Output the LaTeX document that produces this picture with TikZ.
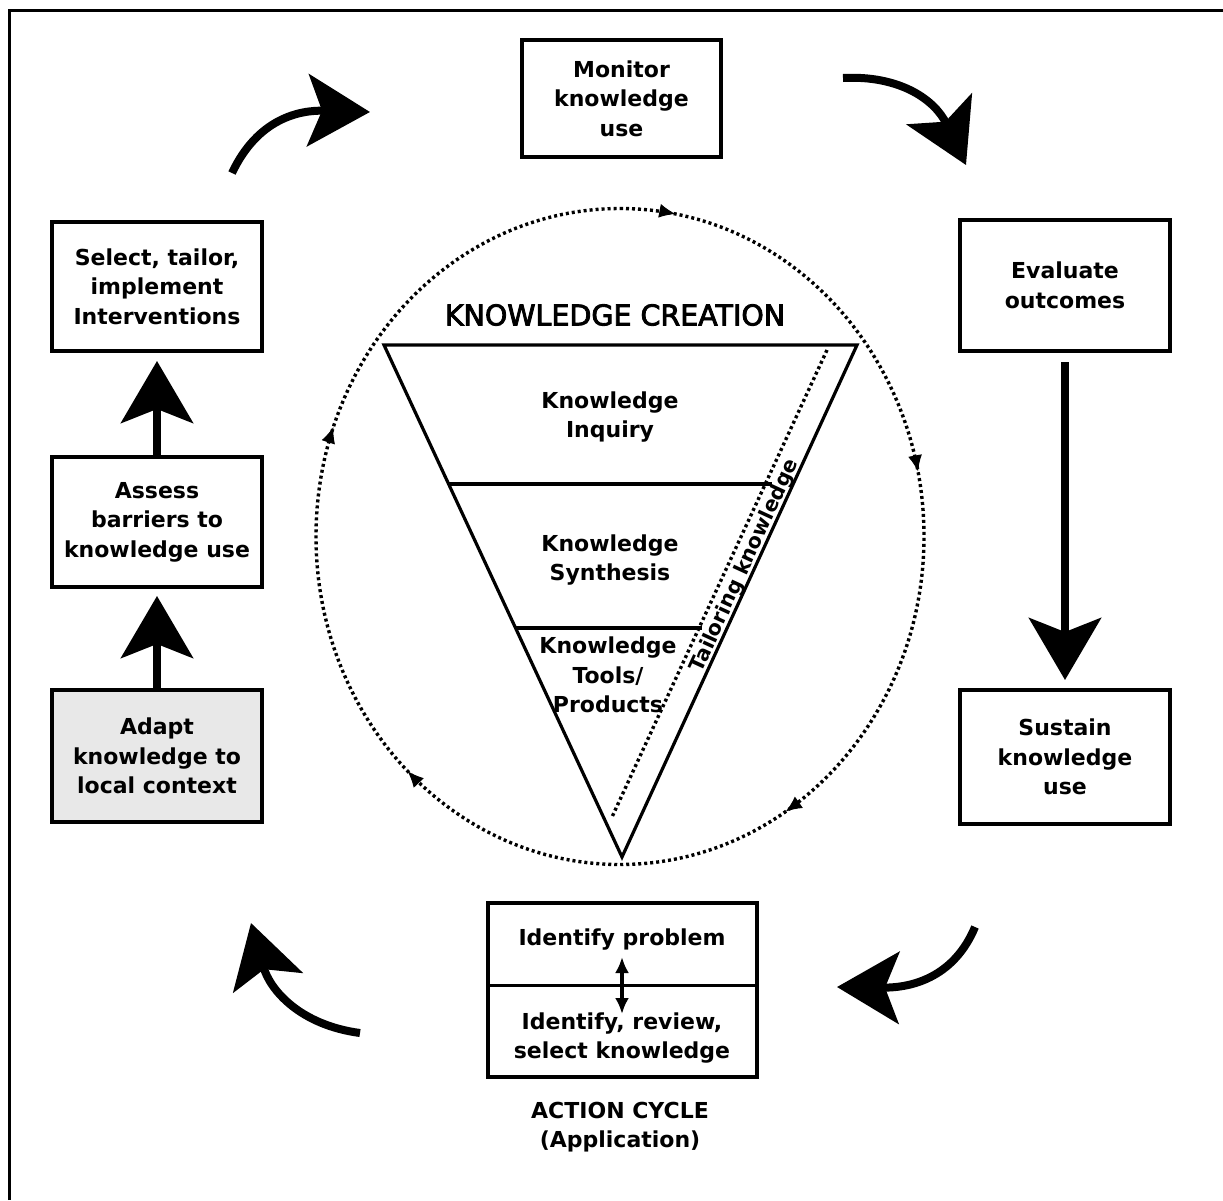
\documentclass[tikz,border=0pt]{standalone}
\usepackage{fontspec}
\setmainfont{DejaVu Sans}
\newfontfamily\titlefont{DejaVu Sans}[FakeBold=3]
\usetikzlibrary{arrows.meta,decorations.markings}

\begin{document}
\begin{tikzpicture}[x=1pt,y=-1pt,
  box/.style={draw, line width=4pt, align=center, inner sep=0pt,
    font=\bfseries\fontsize{22}{29.5}\selectfont},
  label/.style={align=center, inner sep=0pt,
    font=\bfseries\fontsize{22}{29.5}\selectfont},
  bigarrow/.style={line width=8pt, -{Stealth[length=62pt,width=72pt,inset=14pt]}},
  dotline/.style={line width=3.4pt, dash pattern=on 3pt off 3pt},
  cycletip/.style={solid, line width=1pt},
  cyclemark/.style={decoration={markings,
    mark=at position 0.028 with {\arrow[cycletip]{Latex[length=16pt,width=14pt]}},
    mark=at position 0.217 with {\arrow[cycletip]{Latex[length=16pt,width=14pt]}},
    mark=at position 0.411 with {\arrow[cycletip]{Latex[length=16pt,width=14pt]}},
    mark=at position 0.620 with {\arrow[cycletip]{Latex[length=16pt,width=14pt]}},
    mark=at position 0.806 with {\arrow[cycletip]{Latex[length=16pt,width=14pt]}}},
    postaction={decorate}}
]
\useasboundingbox (0,0) rectangle (1223,1200);

% frame
\draw[line width=3pt] (9,1200) -- (9,10) -- (1223,10);

% knowledge creation funnel inside the dotted cycle
\coordinate (ctr) at (620,536.5);
\draw[dotline, cyclemark] (ctr) ++(-90:304 and 328)
  arc[start angle=-90, end angle=270, x radius=304, y radius=328];

\coordinate (tl) at (384,345);
\coordinate (tr) at (857,345);
\coordinate (ap) at (622,857);
\draw[line width=3.2pt, line join=miter] (tl) -- (tr) -- (ap) -- cycle;
\draw[line width=3.2pt] (448.6,484) -- (772,484);
\draw[line width=3.2pt] (515.5,628) -- (702,628);
\coordinate (tk1) at (827,350);
\coordinate (tk2) at (612,817);
\draw[dotline] (tk1) -- (tk2);
\node[label, font=\bfseries\fontsize{20.5}{24}\selectfont, rotate=65.3] (tailor) at (745,566) {Tailoring knowledge};

\node[font=\titlefont\fontsize{28.5}{34}\selectfont, inner sep=0pt] (kc) at (615,315) {KNOWLEDGE CREATION};
\node[label] (inq) at (610,417) {Knowledge\\Inquiry};
\node[label] (syn) at (610,560) {Knowledge\\Synthesis};
\node[label] (tools) at (608,675) {Knowledge\\Tools/\\Products};

% action cycle boxes
\node[box, minimum width=199pt, minimum height=117pt] (monitor) at (621.5,98.5) {Monitor\\knowledge\\use};
\node[box, minimum width=210pt, minimum height=131pt] (evaluate) at (1065,285.5) {Evaluate\\outcomes};
\node[box, minimum width=210pt, minimum height=134pt] (sustain) at (1065,757) {Sustain\\knowledge\\use};
\node[box, minimum width=210pt, minimum height=129pt] (select) at (157,286.5) {Select, tailor,\\implement\\Interventions};
\node[box, minimum width=210pt, minimum height=130pt] (assess) at (157,522) {Assess\\barriers to\\knowledge use};
\node[box, fill=black!9, minimum width=210pt, minimum height=132pt] (adapt) at (157,756) {Adapt\\knowledge to\\local context};

\node[box, minimum width=269pt, minimum height=174pt] (identify) at (622.5,990) {};
\coordinate (dv) at (0,985);
\draw[line width=3pt] (identify.west |- dv) -- (identify.east |- dv);
\node[label] (prob) at (622,940) {Identify problem};
\node[label] (review) at (622,1038) {Identify, review,\\select knowledge};
\coordinate (da) at (622,957);
\coordinate (db) at (622,1014);
\draw[line width=3.5pt, {Latex[length=16pt,width=14pt]}-{Latex[length=16pt,width=14pt]}] (da) -- (db);

\node[label, font=\bfseries\fontsize{22}{29}\selectfont] (action) at (620,1127) {ACTION CYCLE\\(Application)};

% straight flow arrows
\draw[bigarrow, shorten >=7pt] (adapt.north) -- (assess.south);
\draw[bigarrow, shorten >=8pt] (assess.north) -- (select.south);
\draw[bigarrow, shorten <=9pt, shorten >=8pt] (evaluate.south) -- (sustain.north);

% curved flow arrows
\coordinate (a1s) at (232,173);
\coordinate (a1e) at (370,112);
\draw[bigarrow] (a1s) .. controls (258,118) and (300,110) .. (a1e);
\coordinate (a2s) at (843,78);
\coordinate (a2e) at (966,165);
\draw[bigarrow] (a2s) .. controls (900,75) and (935,100) .. (a2e);
\coordinate (a3s) at (975,927);
\coordinate (a3e) at (837,987);
\draw[bigarrow] (a3s) .. controls (955,975) and (915,988) .. (a3e);
\coordinate (a4s) at (360,1033);
\coordinate (a4e) at (251,923);
\draw[bigarrow] (a4s) .. controls (300,1025) and (270,990) .. (a4e);
\end{tikzpicture}
\end{document}
